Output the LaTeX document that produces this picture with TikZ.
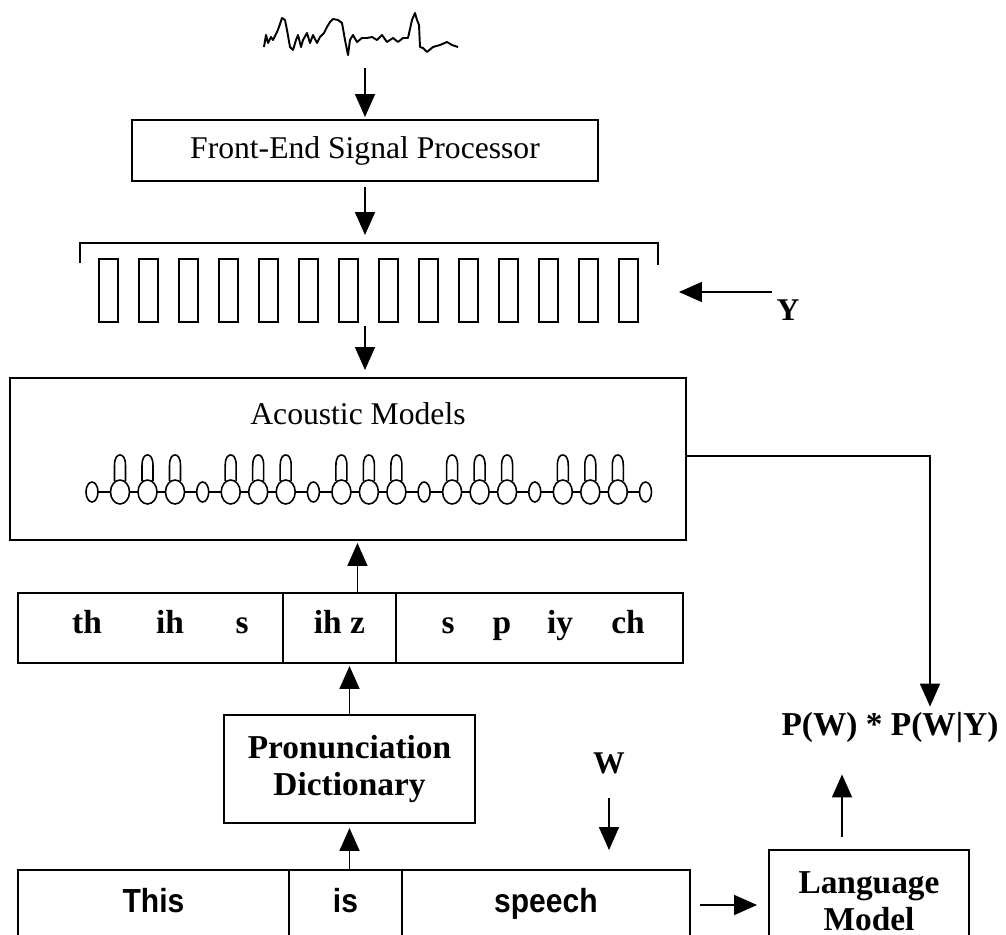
\documentclass[tikz,border=0pt]{standalone}
\usepackage{fontspec}
\setmainfont{Liberation Serif}
\newfontfamily\wordfont[FakeStretch=0.9]{Liberation Sans}
\usepackage{tikz}
\usetikzlibrary{arrows.meta, positioning}

\begin{document}
\begin{tikzpicture}[x=0.02cm, y=-0.02cm, >={Triangle[length=0.46cm,width=0.4cm]},
    every node/.style={font=\fontsize{18}{21}\selectfont},
    box/.style={rectangle, draw, line width=1.1pt, outer sep=0pt},
    cell/.style={box, minimum height=1.4cm},
    bold/.style={font=\fontsize{19}{21}\selectfont\bfseries},
    phon/.style={bold, text height=0.8em, text depth=0.22em},
    sans/.style={font=\fontsize{19}{22}\selectfont\wordfont\bfseries, text height=1.05em, text depth=0.22em},
    link/.style={->, line width=1pt},
    hmm/.style={line width=0.9pt}]
    \useasboundingbox (0,0) rectangle (1006,935);
    \clip (0,0) rectangle (1006,935);

    % Speech waveform
    \draw [line width=1.1pt, line join=round] (264,47) -- (266,35) -- (268,43) -- (271,37) -- (273,40) -- (277,32) -- (279,27) -- (282,18) -- (285,20) -- (287,30) -- (290,47) -- (293,50) -- (296,40) -- (298,35) -- (301,47) -- (303,40) -- (307,33) -- (310,43) -- (313,35) -- (317,43) -- (320,37) -- (324,33) -- (327,27) -- (330,22) -- (333,19) -- (338,20) -- (342,23) -- (345,40) -- (348,55) -- (350,40) -- (353,35) -- (357,42) -- (362,38) -- (367,38) -- (372,37) -- (377,40) -- (382,35) -- (387,42) -- (390,40) -- (393,38) -- (398,42) -- (403,38) -- (408,38) -- (412,20) -- (415,13) -- (417,20) -- (419,25) -- (420,47) -- (423,48) -- (427,52) -- (433,47) -- (440,45) -- (447,42) -- (452,45) -- (458,47);
    \coordinate (wavetail) at (365,68);

    % Front end
    \node (FE) [box, minimum width=9.32cm, minimum height=1.22cm] at (365,150.5) {Front-End Signal Processor};

    % Feature vectors
    \node (feat) [outer sep=0pt, inner sep=0pt, minimum width=11.56cm, minimum height=1.58cm] at (369,282.5) {};
    \draw [line width=0.9pt] ([yshift=-0.4cm]feat.north west) -- (feat.north west) -- (feat.north east) -- ([yshift=-0.44cm]feat.north east);
    \foreach \i in {0,...,13}
        \draw [line width=1pt] (99+40*\i,259) rectangle ++(19,63);
    \node (Y) [bold, font=\fontsize{18}{21}\selectfont\bfseries] at (788,310) {Y};
    \coordinate (ytail) at (772,292);

    % Acoustic models
    \node (AM) [box, minimum width=13.52cm, minimum height=3.24cm] at (348,459) {};
    \node (AMtitle) at (358,414) {Acoustic Models};
    \draw [hmm] (92,492) -- (645,492);
    \foreach \k in {0,...,4}
        \foreach \d in {28,55.5,83} {
            \pgfmathsetmacro\cx{92+110.7*\k+\d}
            \draw [hmm] (\cx-5.5,481) -- (\cx-5.5,466) .. controls (\cx-5.5,457) and (\cx-2.5,455) .. (\cx,455) .. controls (\cx+2.5,455) and (\cx+5.5,457) .. (\cx+5.5,466) -- (\cx+5.5,481);
            \draw [hmm, fill=white] (\cx,492) ellipse [x radius=0.19cm, y radius=0.24cm];
        }
    \foreach \k in {0,...,5}
        \draw [hmm, fill=white] (92+110.7*\k,492) ellipse [x radius=0.12cm, y radius=0.2cm];
    \coordinate (turn) at (930,456);

    % Phone string
    \node (pTh) [cell, minimum width=5.3cm] at (150.5,628) {};
    \node (pIhz) [cell, phon, minimum width=2.26cm, right=0pt of pTh] {ih z};
    \node (pSp) [cell, minimum width=5.74cm, right=0pt of pIhz] {};
    \node (th) [phon] at (87,628) {th};
    \node (ih) [phon] at (170,628) {ih};
    \node (s1) [phon] at (242,628) {s};
    \node (s2) [phon] at (448,628) {s};
    \node (p) [phon] at (502,628) {p};
    \node (iy) [phon] at (560,628) {iy};
    \node (ch) [phon] at (628,628) {ch};

    % Dictionary
    \node (pron) [box, bold, align=center, minimum width=5.02cm, minimum height=2.16cm] at (349.5,769) {Pronunciation\\Dictionary};
    \node (W) [bold, font=\fontsize{18}{21}\selectfont\bfseries] at (609,763) {W};

    % Word string
    \node (wThis) [cell, sans, minimum width=5.42cm] at (153.5,905) {This};
    \node (wIs) [cell, sans, minimum width=2.26cm, right=0pt of wThis] {is};
    \node (wSp) [cell, sans, minimum width=5.76cm, right=0pt of wIs] {speech};

    % Language model and score
    \node (LM) [box, bold, align=center, minimum width=4cm, minimum height=2.04cm] at (869,901) {Language\\Model};
    \node (prob) [bold] at (890,728) {P(W) * P(W|Y)};

    % Arrows
    \draw [link, shorten >=0.06cm] (wavetail) -- (FE.north);
    \draw [link, shorten <=0.12cm, shorten >=0.16cm] (FE.south) -- (FE.south |- feat.north);
    \draw [link, shorten >=0.42cm] (ytail) -- (feat.east |- ytail);
    \draw [link, shorten <=0.08cm, shorten >=0.16cm] (feat.south -| FE.south) -- (FE.south |- AM.north);
    \draw [link] (AM.east |- turn) -- (turn) -- (turn |- prob.north);
    \draw [link, shorten >=0.06cm] ([xshift=0.36cm]pIhz.north) -- ([xshift=0.36cm]pIhz.north |- AM.south);
    \draw [link, shorten >=0.06cm] (pron.north) -- (pron.north |- pIhz.south);
    \draw [link, shorten >=0.1cm] (pron.south |- wIs.north) -- (pron.south);
    \draw [link, shorten <=0.36cm, shorten >=0.4cm] (W.south) -- (W.south |- wSp.north);
    \draw [link, shorten <=0.2cm, shorten >=0.24cm] (wSp.east) -- (wSp.east -| LM.west);
    \draw [link, shorten <=0.26cm, shorten >=0.5cm] ([xshift=-0.54cm]LM.north) -- ([xshift=-0.54cm]LM.north |- prob.south);
\end{tikzpicture}
\end{document}
